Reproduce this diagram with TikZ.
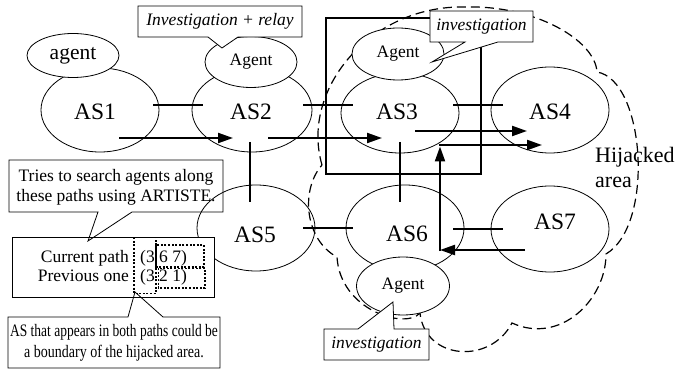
\documentclass[tikz,border=0pt]{standalone}
\usepackage{fontspec}
\setmainfont{Liberation Serif}
\usetikzlibrary{shapes.geometric,arrows.meta}
\begin{document}
\begin{tikzpicture}[x=1pt,y=-1pt,
  asshape/.style={draw,ellipse,line width=0.8pt,inner sep=0pt},
  astext/.style={inner sep=0pt,font=\fontsize{23.5}{26}\selectfont},
  agentnode/.style={draw,ellipse,fill=white,line width=0.8pt,inner sep=0pt,font=\fontsize{17.5}{20}\selectfont},
  link/.style={line width=1.5pt},
  flow/.style={line width=2.2pt,-{Triangle[length=15pt,width=10pt]}},
  callout/.style={draw,line width=0.8pt},
  txt/.style={font=\fontsize{17.5}{20}\selectfont,inner sep=0pt},
  itxt/.style={font=\fontsize{17.5}{20}\selectfont\itshape,inner sep=0pt},
  dotbox/.style={line width=1.5pt,dash pattern=on 2pt off 1.6pt},
  cloudline/.style={line width=1.2pt,dash pattern=on 9pt off 5pt}]
\useasboundingbox (0,0) rectangle (677,371);

% hijacked area (dashed cloud)
\draw[cloudline] (322,165) .. controls (300,90) and (370,5) .. (465,7)
  .. controls (535,5) and (595,40) .. (597,72)
  .. controls (645,80) and (655,225) .. (606,254)
  .. controls (606,300) and (560,345) .. (512,323)
  .. controls (490,365) and (425,360) .. (420,313)
  .. controls (405,330) and (340,310) .. (337,257)
  .. controls (305,240) and (300,190) .. (322,165) -- cycle;

% investigated region rectangle
\draw[line width=1.8pt] (326,18) rectangle (481,174);

% AS ellipses
\node[asshape,minimum width=118pt,minimum height=84pt] (AS1) at (100,110) {};
\node[asshape,minimum width=120pt,minimum height=84pt] (AS2) at (252,110) {};
\node[asshape,minimum width=118pt,minimum height=80pt] (AS3) at (400,113) {};
\node[asshape,minimum width=118pt,minimum height=86pt] (AS4) at (550,110) {};
\node[asshape,minimum width=118pt,minimum height=86pt] (AS5) at (256,228) {};
\node[asshape,minimum width=118pt,minimum height=86pt] (AS6) at (405,228) {};
\node[asshape,minimum width=118pt,minimum height=86pt] (AS7) at (550,229) {};
\node[astext] (AS1t) at (95,112) {AS1};
\node[astext] (AS2t) at (251,112) {AS2};
\node[astext] (AS3t) at (397,112) {AS3};
\node[astext] (AS4t) at (550,112) {AS4};
\node[astext] (AS5t) at (255,235) {AS5};
\node[astext] (AS6t) at (407,234) {AS6};
\node[astext] (AS7t) at (555,222) {AS7};

% links between ASes
\coordinate (l12a) at (153,105); \coordinate (l12b) at (203,105);
\coordinate (l23a) at (303,105); \coordinate (l23b) at (353,105);
\coordinate (l34a) at (453,105); \coordinate (l34b) at (503,105);
\coordinate (l56a) at (303,228); \coordinate (l56b) at (353,228);
\coordinate (l67a) at (453,229); \coordinate (l67b) at (503,229);
\coordinate (l25a) at (250,142); \coordinate (l25b) at (250,202);
\coordinate (l36a) at (400,142); \coordinate (l36b) at (400,202);
\draw[link] (l12a) -- (l12b);
\draw[link] (l23a) -- (l23b);
\draw[link] (l34a) -- (l34b);
\draw[link] (l56a) -- (l56b);
\draw[link] (l67a) -- (l67b);
\draw[link] (l25a) -- (l25b);
\draw[link] (l36a) -- (l36b);

% path arrows
\coordinate (f1a) at (119,138); \coordinate (f1b) at (233,138);
\coordinate (f2a) at (268,138); \coordinate (f2b) at (382,138);
\coordinate (f3a) at (415,131); \coordinate (f3b) at (527,131);
\coordinate (f4a) at (438.9,145); \coordinate (f4b) at (542,145);
\coordinate (f5a) at (525,250); \coordinate (f5b) at (440,250);
\coordinate (f6a) at (440,251.1); \coordinate (f6b) at (440,146.5);
\draw[flow] (f1a) -- (f1b);
\draw[flow] (f2a) -- (f2b);
\draw[flow] (f3a) -- (f3b);
\draw[flow] (f4a) -- (f4b);
\draw[flow] (f5a) -- (f5b);
\draw[flow] (f6a) -- (f6b);

% agents
\node[agentnode,minimum width=92pt,minimum height=44pt,font=\fontsize{21.5}{24}\selectfont] (ag1) at (73,55.5) {agent};
\node[agentnode,minimum width=92pt,minimum height=51pt] (ag2) at (251,62) {Agent};
\node[agentnode,minimum width=92pt,minimum height=52pt] (ag3) at (398,54) {Agent};
\node[agentnode,minimum width=93pt,minimum height=58pt] (ag6) at (403,286) {Agent};

% callouts
\draw[callout,fill=white] (138,6) -- (302,6) -- (302,37) -- (238,37) -- (222,48) -- (208,37) -- (138,37) -- cycle;
\node[itxt] (c1) at (220,21.5) {Investigation + relay};
\draw[callout,fill=white] (430,11) -- (533,11) -- (533,42) -- (498,42) -- (432,62) -- (465,42) -- (430,42) -- cycle;
\node[itxt] (c2) at (481.5,26.5) {investigation};
\draw[callout,fill=white] (324,329) -- (358,329) -- (393,302) -- (394,329) -- (429,329) -- (429,360) -- (324,360) -- cycle;
\node[itxt] (c3) at (376.5,344.5) {investigation};

% path comparison box
\node[draw,fill=white,line width=0.8pt,minimum width=202pt,minimum height=60pt,inner sep=0pt] (cmp) at (113,267) {};
\node[txt,anchor=base east] (cur) at (129,263) {Current path};
\node[txt,anchor=base east] (prev) at (129,282) {Previous one};
\node[txt,anchor=base west] (curp) at (140,263) {(3 6 7)};
\node[txt,anchor=base west] (prevp) at (140,282) {(3 2 1)};
\draw[dotbox] (134,237.3) rectangle (156,293.3);
\draw[dotbox] (156,245) rectangle (204,267);
\draw[dotbox] (158.3,268.3) rectangle (205,288);

\draw[callout] (9,160) -- (223,160) -- (223,212) -- (132,212) -- (88,241) -- (98,212) -- (9,212) -- cycle;
\node[txt,align=center] (tries) at (116,187) {Tries to search agents along\\these paths using ARTISTE.};
\draw[callout] (8,317) -- (128,317) -- (135,292) -- (163,317) -- (220,317) -- (220,368) -- (8,368) -- cycle;
\node[font=\fontsize{17.5}{21}\selectfont,inner sep=0pt,align=center] (bound) at (114,343) {\scalebox{0.77}[1]{AS that appears in both paths could be}\\\scalebox{0.8}[1]{a boundary of the hijacked area.}};

% label of the cloud
\node[inner sep=0pt,anchor=base west,font=\fontsize{22}{25}\selectfont] (hij) at (595,163) {Hijacked};
\node[inner sep=0pt,anchor=base west,font=\fontsize{22}{25}\selectfont] (area) at (595,188) {area};
\end{tikzpicture}
\end{document}
